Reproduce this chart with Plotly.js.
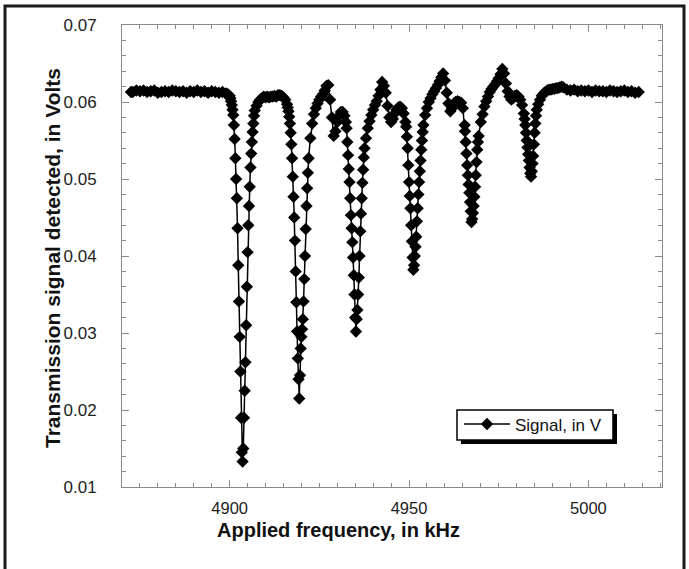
<!DOCTYPE html>
<html>
<head>
<meta charset="utf-8">
<script src="https://cdn.plot.ly/plotly-3.0.1.min.js"></script>
<style>
html,body{margin:0;padding:0;background:#fff;}
#chart{width:689px;height:569px;}
</style>
</head>
<body>
<div id="chart"></div>
<script>
// Applied frequency (kHz)
const freqKHz = [
4872.5,4873,4874,4875,4876,4877,4878,4879,4880,4881,4882,4883,4884,4885,4886,4887,4888,4889,4890,4891,4892,4893,4894,4895,4896,4897,4898,4899,4899.5,
4900.0,4900.2,4900.4,4900.6,4900.8,4901.0,4901.2,4901.4,4901.6,4901.8,4902.0,4902.2,4902.4,4902.6,4902.8,4903.0,4903.2,4903.4,4903.6,4903.8,4904.0,4904.2,4904.4,4904.6,4904.8,4905.0,4905.2,4905.4,4905.6,4905.8,4906.0,4906.2,4906.4,4906.6,4906.8,4907.0,
4907.5,4908,4908.5,4909,4909.5,4910,4910.5,4911,4911.5,4912,4912.5,4913,4913.5,4914,4914.5,4915,4915.5,4916,
4916.2,4916.4,4916.6,4916.8,4917.0,4917.2,4917.4,4917.6,4917.8,4918.0,4918.2,4918.4,4918.6,4918.8,4919.0,4919.2,4919.4,4919.6,4919.8,4920.0,4920.2,4920.4,4920.6,4920.8,4921.0,4921.2,4921.4,4921.6,4921.8,4922.0,
4922.5,4923,4923.5,4924,4924.5,4925,4925.5,4926,4926.5,4927,4927.5,4928,4928.5,4929,4929.5,4930,4930.5,4931,4931.5,4932,4932.4,
4932.6,4932.8,4933.0,4933.2,4933.4,4933.6,4933.8,4934.0,4934.2,4934.4,4934.6,4934.8,4935.0,4935.2,4935.4,4935.6,4935.8,4936.0,4936.2,4936.4,4936.6,4936.8,4937.0,4937.2,4937.4,4937.6,
4938,4938.5,4939,4939.5,4940,4940.5,4941,4941.5,4942,4942.5,4943,4943.5,4944,4944.5,4945,4945.5,4946,4946.5,4947,4947.5,4948,4948.5,4949,
4949.2,4949.4,4949.6,4949.8,4950.0,4950.2,4950.4,4950.6,4950.8,4951.0,4951.2,4951.4,4951.6,4951.8,4952.0,4952.2,4952.4,4952.6,4952.8,4953.0,4953.2,4953.4,4953.6,4953.8,
4954,4954.5,4955,4955.5,4956,4956.5,4957,4957.5,4958,4958.5,4959,4959.5,4960,4960.5,4961,4961.5,4962,4962.5,4963,4963.5,4964,4964.5,4965,4965.5,
4965.6,4965.8,4966.0,4966.2,4966.4,4966.6,4966.8,4967.0,4967.2,4967.4,4967.6,4967.8,4968.0,4968.2,4968.4,4968.6,4968.8,4969.0,4969.2,4969.4,
4970,4970.5,4971,4971.5,4972,4972.5,4973,4973.5,4974,4974.5,4975,4975.5,4976,4976.5,4977,4977.5,4978,4978.5,4979,4979.5,4980,4980.5,4981,4981.5,4982,
4982.2,4982.4,4982.6,4982.8,4983.0,4983.2,4983.4,4983.6,4983.8,4984.0,4984.2,4984.4,4984.6,4984.8,4985.0,4985.2,4985.4,4985.6,
4986,4986.5,4987,4987.5,4988,4988.5,4989,4989.5,4990,4990.5,4991,4991.5,4992,4992.5,4993,
4994,4995,4996,4997,4998,4999,5000,5001,5002,5003,5004,5005,5006,5007,5008,5009,5010,5011,5012,5013,5014
];
// Transmission signal detected (V)
const signalV = [
0.0613,0.0613,0.0615,0.0614,0.0615,0.0613,0.0614,0.0615,0.0612,0.0613,0.0614,0.0613,0.0615,0.0614,0.0613,0.0614,0.0612,0.0614,0.0613,0.0615,0.0613,0.0614,0.0612,0.0614,0.0613,0.0612,0.0613,0.0611,0.0610,
0.0608,0.0605,0.0601,0.0596,0.0590,0.0583,0.0570,0.0552,0.0527,0.0500,0.0475,0.0436,0.0388,0.0341,0.0295,0.0250,0.0190,0.0145,0.0133,0.0150,0.0190,0.0225,0.0262,0.0310,0.0360,0.0405,0.0440,0.0465,0.0490,0.0515,0.0533,0.0548,0.0561,0.0572,0.0582,0.0589,
0.0595,0.0600,0.0603,0.0605,0.0607,0.0606,0.0607,0.0606,0.0607,0.0607,0.0608,0.0607,0.0609,0.0609,0.0608,0.0606,0.0603,0.0597,
0.0593,0.0588,0.0581,0.0572,0.0560,0.0545,0.0527,0.0503,0.0477,0.0450,0.0420,0.0380,0.0340,0.0302,0.0267,0.0240,0.0215,0.0245,0.0280,0.0295,0.0305,0.0318,0.0341,0.0370,0.0400,0.0435,0.0465,0.0488,0.0508,0.0527,
0.0553,0.0572,0.0584,0.0592,0.0598,0.0603,0.0607,0.0610,0.0615,0.0621,0.0622,0.0603,0.0580,0.0556,0.0562,0.0574,0.0582,0.0587,0.0587,0.0582,0.0574,
0.0566,0.0548,0.0531,0.0513,0.0496,0.0475,0.0453,0.0436,0.0418,0.0398,0.0375,0.0350,0.0320,0.0302,0.0318,0.0330,0.0350,0.0372,0.0400,0.0432,0.0455,0.0475,0.0495,0.0512,0.0528,0.0540,
0.0553,0.0566,0.0575,0.0583,0.0590,0.0596,0.0601,0.0608,0.0616,0.0626,0.0621,0.0612,0.0595,0.0580,0.0574,0.0578,0.0585,0.0590,0.0593,0.0594,0.0592,0.0585,0.0574,
0.0568,0.0555,0.0540,0.0518,0.0496,0.0478,0.0462,0.0440,0.0419,0.0398,0.0382,0.0388,0.0400,0.0412,0.0425,0.0445,0.0462,0.0480,0.0496,0.0510,0.0524,0.0538,0.0550,0.0561,
0.0570,0.0583,0.0592,0.0600,0.0605,0.0610,0.0614,0.0618,0.0622,0.0627,0.0632,0.0637,0.0628,0.0612,0.0598,0.0588,0.0592,0.0598,0.0600,0.0601,0.0600,0.0599,0.0592,0.0570,
0.0562,0.0548,0.0533,0.0518,0.0505,0.0493,0.0482,0.0470,0.0458,0.0444,0.0448,0.0456,0.0465,0.0477,0.0490,0.0505,0.0522,0.0538,0.0548,0.0556,
0.0574,0.0584,0.0594,0.0601,0.0607,0.0613,0.0617,0.0620,0.0623,0.0627,0.0631,0.0636,0.0643,0.0637,0.0624,0.0614,0.0607,0.0603,0.0605,0.0608,0.0609,0.0607,0.0603,0.0596,0.0585,
0.0578,0.0570,0.0560,0.0550,0.0541,0.0532,0.0524,0.0515,0.0507,0.0503,0.0510,0.0520,0.0530,0.0545,0.0560,0.0572,0.0582,0.0590,
0.0597,0.0603,0.0608,0.0611,0.0613,0.0615,0.0616,0.0616,0.0617,0.0617,0.0618,0.0618,0.0619,0.0620,0.0619,
0.0616,0.0615,0.0616,0.0614,0.0615,0.0614,0.0615,0.0613,0.0615,0.0614,0.0614,0.0613,0.0615,0.0614,0.0613,0.0614,0.0615,0.0613,0.0614,0.0612,0.0613
];
const seriesName = 'Signal, in V';
const xTitle = 'Applied frequency, in kHz';
const yTitle = 'Transmission signal detected, in Volts';
const xTickVals = [4900, 4950, 5000];
const yTickVals = [0.01, 0.02, 0.03, 0.04, 0.05, 0.06, 0.07];

const FONT = 'Liberation Sans, Arial, Helvetica, sans-serif';
const axisCol = '#8a8a8a';

const trace = {
  x: freqKHz, y: signalV, name: seriesName,
  type: 'scatter', mode: 'lines+markers',
  line: {color: '#000', width: 1.5},
  marker: {symbol: 'diamond', size: 9.5, color: '#000'},
  showlegend: true
};

const W = 689, H = 569, L = 122, R = 27, T = 25, B = 82;
const pw = W - L - R, ph = H - T - B;
function px2x(p){ return (p - L) / pw; }
function py2y(p){ return (H - B - p) / ph; }

const layout = {
  width: W, height: H,
  margin: {l: L, r: R, t: T, b: B, pad: 0},
  paper_bgcolor: '#fff', plot_bgcolor: '#fff',
  font: {family: FONT, color: '#222'},
  showlegend: true,
  legend: {
    x: px2x(459), y: py2y(406.5), xanchor: 'left', yanchor: 'top',
    bgcolor: 'rgba(0,0,0,0)', borderwidth: 0,
    font: {family: FONT, size: 17, color: '#111'},
    itemwidth: 46
  },
  xaxis: {
    range: [4870, 5020.5], tickvals: xTickVals, ticktext: xTickVals.map(String),
    ticks: 'inside', ticklen: 7, tickwidth: 1, tickcolor: axisCol,
    showline: true, linecolor: axisCol, linewidth: 1, mirror: 'allticks',
    showgrid: false, zeroline: false,
    minor: {dtick: 5, tick0: 4870, ticks: 'inside', ticklen: 4, tickcolor: axisCol, showgrid: false},
    tickfont: {family: FONT, size: 16.5, color: '#222'},
    ticklabelstandoff: 6,
    automargin: false
  },
  yaxis: {
    range: [0.01, 0.07], tickvals: yTickVals, ticktext: yTickVals.map(v => v.toFixed(2)),
    ticks: 'inside', ticklen: 7, tickwidth: 1, tickcolor: axisCol,
    showline: true, linecolor: axisCol, linewidth: 1, mirror: 'allticks',
    showgrid: false, zeroline: false,
    minor: {dtick: 0.002, tick0: 0.01, ticks: 'inside', ticklen: 4, tickcolor: axisCol, showgrid: false},
    tickfont: {family: FONT, size: 17, color: '#222'},
    ticklabelstandoff: 21,
    automargin: false
  },
  annotations: [
    {text: xTitle, xref: 'paper', yref: 'paper', x: px2x(338), y: py2y(530),
     xanchor: 'center', yanchor: 'middle', showarrow: false,
     font: {family: FONT, size: 20, weight: 'bold', color: '#111'}},
    {text: yTitle, xref: 'paper', yref: 'paper', x: px2x(52), y: py2y(258),
     xanchor: 'center', yanchor: 'middle', showarrow: false, textangle: -90,
     font: {family: FONT, size: 21, weight: 'bold', color: '#111'}}
  ],
  shapes: [
    {type: 'rect', xref: 'paper', yref: 'paper', x0: px2x(5), x1: px2x(684), y0: py2y(6), y1: py2y(580),
     line: {color: '#1a1a1a', width: 3}, fillcolor: 'rgba(0,0,0,0)', layer: 'above'},
    // legend drop shadow and box
    {type: 'rect', xref: 'paper', yref: 'paper', x0: px2x(461), x1: px2x(617), y0: py2y(444), y1: py2y(414),
     line: {width: 0}, fillcolor: '#000', layer: 'above'},
    {type: 'rect', xref: 'paper', yref: 'paper', x0: px2x(457), x1: px2x(613), y0: py2y(440), y1: py2y(410),
     line: {color: '#000', width: 1.5}, fillcolor: '#fff', layer: 'above'}
  ]
};

Plotly.newPlot('chart', [trace], layout, {staticPlot: true, displayModeBar: false});
</script>
</body>
</html>
